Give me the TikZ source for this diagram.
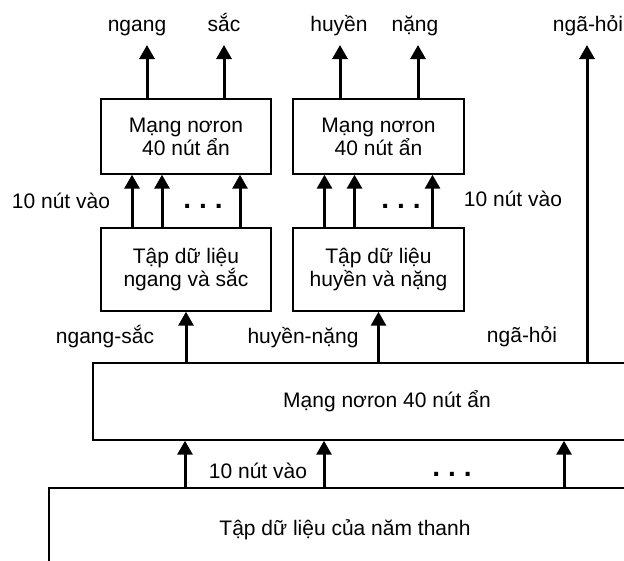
\documentclass[tikz,border=0pt]{standalone}
\usepackage{fontspec}
\setmainfont{Liberation Sans}
\usetikzlibrary{arrows.meta}
\begin{document}
\begin{tikzpicture}[x=1pt,y=-1pt,
  every node/.style={font=\fontsize{21}{23}\selectfont, inner sep=0pt},
  box/.style={draw, line width=1.4pt, align=center},
  arr/.style={line width=3pt, -{Triangle[width=15pt,length=14pt]}},
  lbl/.style={anchor=base},
  dots/.style={anchor=base, font=\fontsize{28}{28}\selectfont\bfseries}]
\useasboundingbox (0,0) rectangle (624,560);
\clip (0,0) rectangle (624,560);
% boxes
\node[box, minimum width=170pt, minimum height=75pt] (A) at (186,136.5) {Mạng nơron\\40 nút ẩn};
\node[box, minimum width=171pt, minimum height=75pt] (B) at (378.5,136.5) {Mạng nơron\\40 nút ẩn};
\node[box, minimum width=170pt, minimum height=83pt] (C) at (186,269.5) {Tập dữ liệu\\ngang và sắc};
\node[box, minimum width=171pt, minimum height=83pt] (D) at (378.5,269.5) {Tập dữ liệu\\huyền và nặng};
\node[box, minimum width=588pt, minimum height=77pt] (E) at (387,401.5) {Mạng nơron 40 nút ẩn};
\node[box, minimum width=592pt, minimum height=84pt] (F) at (345,530) {Tập dữ liệu của năm thanh};
% output coordinates
\coordinate (o1) at (147,45);
\coordinate (o2) at (224,45);
\coordinate (o3) at (340,45);
\coordinate (o4) at (418,45);
\coordinate (o5) at (587,45);
\draw[arr] (A.north -| o1) -- (o1);
\draw[arr] (A.north -| o2) -- (o2);
\draw[arr] (B.north -| o3) -- (o3);
\draw[arr] (B.north -| o4) -- (o4);
\draw[arr] (E.north -| o5) -- (o5);
% top labels
\node[lbl] (l1) at (137,31) {ngang};
\node[lbl] (l2) at (224,31) {sắc};
\node[lbl] (l3) at (339,31) {huyền};
\node[lbl] (l4) at (415,31) {nặng};
\node[lbl] (l5) at (588,31) {ngã-hỏi};
% inputs to A and B
\foreach \s in {-54,-24,54}{
  \draw[arr] ([xshift=\s pt]C.north) -- ([xshift=\s pt]A.south);
  \draw[arr] ([xshift=\s pt]D.north) -- ([xshift=\s pt]B.south);
}
\node[dots] (d1) at (203,208) {.\hspace{8pt}.\hspace{8pt}.};
\node[dots] (d2) at (401,208) {.\hspace{8pt}.\hspace{8pt}.};
\node[lbl] (n1) at (61,208) {10 nút vào};
\node[lbl] (n2) at (513,206) {10 nút vào};
% from E to C, D
\draw[arr] (E.north -| C.south) -- (C.south);
\draw[arr] (E.north -| D.south) -- (D.south);
\node[lbl] (g1) at (105,343) {ngang-sắc};
\node[lbl] (g2) at (303,343) {huyền-nặng};
\node[lbl] (g3) at (522,342) {ngã-hỏi};
% from F to E
\coordinate (i1) at (185,0);
\coordinate (i2) at (324,0);
\coordinate (i3) at (564,0);
\draw[arr] (F.north -| i1) -- (E.south -| i1);
\draw[arr] (F.north -| i2) -- (E.south -| i2);
\draw[arr] (F.north -| i3) -- (E.south -| i3);
\node[lbl] (n3) at (258,478) {10 nút vào};
\node[dots] (d3) at (452,476) {.\hspace{8pt}.\hspace{8pt}.};
\end{tikzpicture}
\end{document}
